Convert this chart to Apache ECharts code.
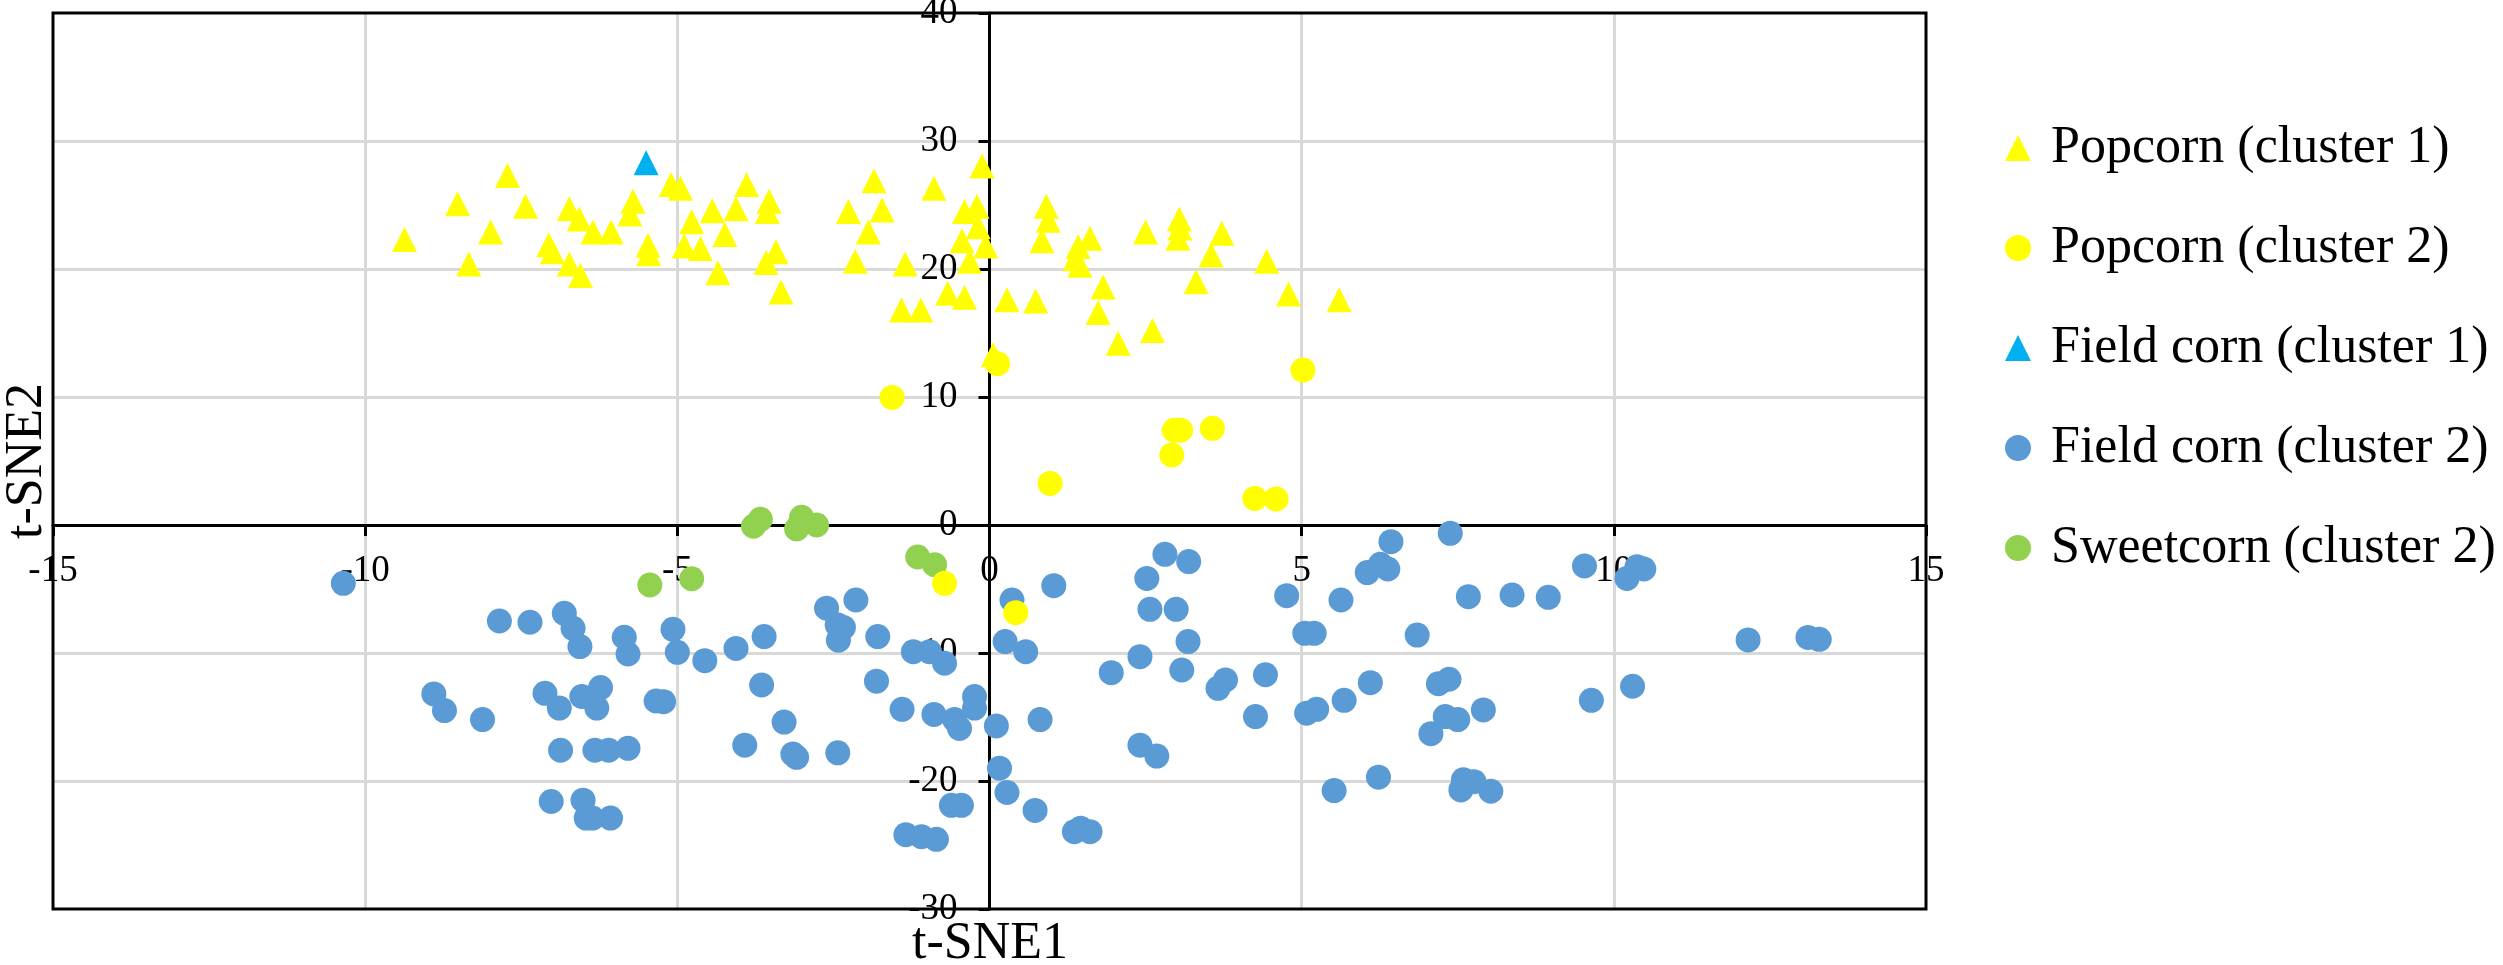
<!DOCTYPE html>
<html>
<head>
<meta charset="utf-8">
<script src="https://cdn.jsdelivr.net/npm/echarts@6/dist/echarts.min.js"></script>
<style>
html,body{margin:0;padding:0;background:#ffffff;}
#chart{width:2503px;height:965px;}
</style>
</head>
<body>
<div id="chart"></div>
<script>
// ---- data ----
const seriesNames = ['Popcorn (cluster 1)', 'Popcorn (cluster 2)', 'Field corn (cluster 1)', 'Field corn (cluster 2)', 'Sweetcorn (cluster 2)'];
const xAxisTitle = 't-SNE1';
const yAxisTitle = 't-SNE2';
const xRange = [-15, 15, 5];
const yRange = [-30, 40, 10];

const popcornCluster1 = [
  [-9.37, 22.3], [-8.52, 25.1], [-8.34, 20.4], [-7.99, 22.9], [-7.72, 27.3], [-7.43, 24.9],
  [-7.06, 21.9], [-7.0, 21.35], [-6.73, 24.7], [-6.57, 23.9], [-6.73, 20.4], [-6.55, 19.5],
  [-6.35, 22.9], [-6.06, 22.9], [-5.71, 25.3], [-5.76, 24.3], [-5.47, 21.85], [-5.46, 21.2],
  [-5.1, 26.6], [-4.95, 26.3], [-4.77, 23.7], [-4.89, 21.8], [-4.63, 21.6], [-4.44, 24.55],
  [-4.24, 22.7], [-4.35, 19.7], [-4.06, 24.7], [-3.89, 26.6], [-3.53, 25.3], [-3.56, 24.5],
  [-3.42, 21.35], [-3.58, 20.5], [-3.34, 18.2], [-2.26, 24.5], [-2.15, 20.6], [-1.94, 22.9],
  [-1.85, 26.9], [-1.72, 24.6], [-1.35, 20.4], [-1.41, 16.8], [-1.10, 16.8], [-0.89, 26.3],
  [-0.67, 18.1], [-0.40, 17.8], [-0.40, 24.5], [-0.20, 24.9], [-0.18, 23.3], [-0.44, 22.2],
  [-0.32, 20.6], [-0.12, 28.05], [-0.06, 21.8], [0.06, 13.3], [0.28, 17.6], [0.74, 17.5],
  [0.91, 24.9], [0.94, 23.8], [0.84, 22.2], [1.61, 22.4], [1.42, 21.75], [1.37, 20.8],
  [1.45, 20.3], [1.82, 18.6], [1.74, 16.6], [2.06, 14.2], [2.61, 15.2], [2.50, 22.9],
  [3.04, 23.9], [3.05, 23.2], [3.02, 22.4], [3.72, 22.8], [3.55, 21.1], [3.31, 19.0],
  [4.44, 20.6], [4.79, 18.05], [5.60, 17.6]
];

const popcornCluster2 = [
  [0.13, 12.6], [5.02, 12.1], [-1.56, 9.97], [2.96, 7.4], [3.06, 7.4], [3.57, 7.55],
  [2.92, 5.47], [0.97, 3.25], [4.25, 2.08], [4.59, 2.03], [-0.72, -4.56], [0.42, -6.85]
];

const fieldCornCluster1 = [
  [-5.5, 28.3]
];

const fieldCornCluster2 = [
  [-10.35, -4.56], [-7.85, -7.5], [-7.36, -7.6], [-6.81, -6.9], [-6.67, -8.07], [-6.56, -9.5],
  [-5.85, -8.77], [-5.79, -10.08], [-5.07, -8.15], [-5.00, -9.95], [-4.56, -10.6], [-4.06, -9.64],
  [-3.61, -8.72], [-3.65, -12.5], [-3.29, -15.4], [-3.92, -17.2], [-3.15, -17.9], [-3.09, -18.15],
  [-8.9, -13.2], [-8.73, -14.5], [-8.12, -15.2], [-7.12, -13.15], [-6.89, -14.3], [-6.53, -13.4],
  [-6.23, -12.7], [-6.29, -14.3], [-5.34, -13.75], [-5.22, -13.8], [-6.87, -17.6], [-6.32, -17.6],
  [-6.10, -17.6], [-5.79, -17.45], [-7.02, -21.6], [-6.51, -21.5], [-6.46, -22.9], [-6.36, -22.9],
  [-6.07, -22.9],
  [2.81, -2.29], [3.19, -2.86], [2.52, -4.17], [1.03, -4.74], [0.36, -5.86], [2.57, -6.59],
  [2.99, -6.59], [4.76, -5.52], [3.18, -9.11], [2.41, -10.29], [1.95, -11.54], [3.08, -11.33],
  [3.78, -12.1], [3.66, -12.76], [4.42, -11.7], [4.26, -14.97], [2.41, -17.2], [2.68, -18.05],
  [0.25, -9.11], [0.58, -9.9], [0.81, -15.2], [0.11, -15.7], [0.16, -19.0], [0.28, -20.9],
  [0.73, -22.3], [1.36, -23.96], [1.46, -23.7], [1.61, -23.96], [-0.24, -13.4], [-0.24, -14.3],
  [-0.56, -15.2], [-0.48, -15.9], [-0.89, -14.8], [-1.40, -14.4], [-1.81, -12.2], [-1.22, -9.9],
  [-0.96, -9.9], [-0.72, -10.8], [-1.79, -8.72], [-2.14, -5.86], [-2.61, -6.5], [-2.44, -7.8],
  [-2.34, -8.0], [-2.42, -9.0], [-2.43, -17.8], [-0.61, -21.9], [-0.45, -21.9], [-1.34, -24.2],
  [-1.09, -24.35], [-0.85, -24.56],
  [6.43, -1.3], [7.38, -0.65], [6.05, -3.72], [6.26, -3.07], [6.38, -3.44], [5.63, -5.86],
  [5.05, -8.46], [5.2, -8.46], [6.85, -8.6], [7.67, -5.6], [8.37, -5.47], [8.95, -5.65],
  [9.53, -3.2], [10.21, -4.17], [10.37, -3.26], [10.48, -3.44], [12.15, -8.98], [13.11, -8.78],
  [13.29, -8.93], [6.1, -12.32], [5.68, -13.7], [5.24, -14.4], [5.08, -14.7], [7.19, -12.4],
  [7.36, -12.05], [7.30, -14.97], [7.5, -15.2], [7.07, -16.3], [7.91, -14.45], [9.64, -13.7],
  [10.3, -12.6], [6.23, -19.7], [5.52, -20.75], [7.59, -19.9], [7.76, -20.05], [7.55, -20.7],
  [8.03, -20.8]
];

const sweetcornCluster2 = [
  [-5.44, -4.69], [-4.77, -4.2], [-3.78, -0.1], [-3.67, 0.44], [-3.09, -0.3], [-3.01, 0.6],
  [-2.77, 0.0], [-1.15, -2.5], [-0.88, -3.1]
];

// ---- chart ----
const FONT = '"Liberation Serif", "Times New Roman", serif';
const GRID = {left: 53, right: 577, top: 13, bottom: 56};
const chart = echarts.init(document.getElementById('chart'), null, {renderer: 'canvas'});

function labelStyle(margin) {
  return {show: true, color: '#000000', fontFamily: FONT, fontSize: 37, margin: margin, showMinLabel: true, showMaxLabel: true};
}

// main axes: lines through zero, ticks and grid lines
function mainAxis(range) {
  return {
    type: 'value', min: range[0], max: range[1], interval: range[2],
    axisLine: {show: true, onZero: true, lineStyle: {color: '#000000', width: 3}},
    axisTick: {show: true, inside: false, length: 11, lineStyle: {color: '#000000', width: 3}},
    splitLine: {show: true, showMinLine: false, showMaxLine: false, lineStyle: {color: '#d9d9d9', width: 3}},
    axisLabel: {show: false}
  };
}
// label-only axes, moved onto the zero lines with an offset
function labelAxis(range, position, offset, margin) {
  return {
    type: 'value', min: range[0], max: range[1], interval: range[2],
    position: position, offset: offset,
    axisLine: {show: false, onZero: false},
    axisTick: {show: false},
    splitLine: {show: false},
    axisLabel: labelStyle(margin)
  };
}

function buildOption(xOffset, yOffset) {
  return {
    backgroundColor: '#ffffff',
    animation: false,
    grid: Object.assign({show: true, borderColor: '#000000', borderWidth: 3, backgroundColor: 'transparent', z: 3, outerBoundsMode: 'none', containLabel: false}, GRID),
    xAxis: [mainAxis(xRange), labelAxis(xRange, 'bottom', xOffset, 28)],
    yAxis: [mainAxis(yRange), labelAxis(yRange, 'left', yOffset, 32)],
    legend: {
      show: true,
      orient: 'vertical',
      left: 2000,
      top: 117,
      itemWidth: 26,
      itemHeight: 26,
      itemGap: 48,
      data: seriesNames,
      textStyle: {color: '#000000', fontFamily: FONT, fontSize: 52, padding: [0, 0, 0, 15]}
    },
    graphic: [
      {type: 'text', x: 990, y: 944, z: 10, style: {text: xAxisTitle, font: '52px ' + FONT, fill: '#000000', align: 'center', verticalAlign: 'middle'}},
      {type: 'text', x: 27, y: 461, rotation: Math.PI / 2, z: 10, style: {text: yAxisTitle, font: '52px ' + FONT, fill: '#000000', align: 'center', verticalAlign: 'middle'}}
    ],
    series: [
      {name: seriesNames[3], type: 'scatter', data: fieldCornCluster2, symbol: 'circle', symbolSize: 25, itemStyle: {color: '#5b9bd5', opacity: 1}, z: 2},
      {name: seriesNames[4], type: 'scatter', data: sweetcornCluster2, symbol: 'circle', symbolSize: 25, itemStyle: {color: '#92d050', opacity: 1}, z: 3},
      {name: seriesNames[1], type: 'scatter', data: popcornCluster2, symbol: 'circle', symbolSize: 25, itemStyle: {color: '#ffff00', opacity: 1}, z: 4},
      {name: seriesNames[0], type: 'scatter', data: popcornCluster1, symbol: 'triangle', symbolSize: 25, itemStyle: {color: '#ffff00', opacity: 1}, z: 5},
      {name: seriesNames[2], type: 'scatter', data: fieldCornCluster1, symbol: 'triangle', symbolSize: 25, itemStyle: {color: '#00b0f0', opacity: 1}, z: 6}
    ]
  };
}

chart.setOption(buildOption(0, 0));
// find where the zero lines fall, then move the label axes onto them
const origin = chart.convertToPixel({xAxisIndex: 0, yAxisIndex: 0}, [0, 0]);
const gridBottom = 965 - GRID.bottom;
const xOff = origin[1] - gridBottom;        // bottom axis: positive offset moves down
const yOff = GRID.left - origin[0];         // left axis: positive offset moves left
chart.setOption(buildOption(xOff, yOff), true);
</script>
</body>
</html>
